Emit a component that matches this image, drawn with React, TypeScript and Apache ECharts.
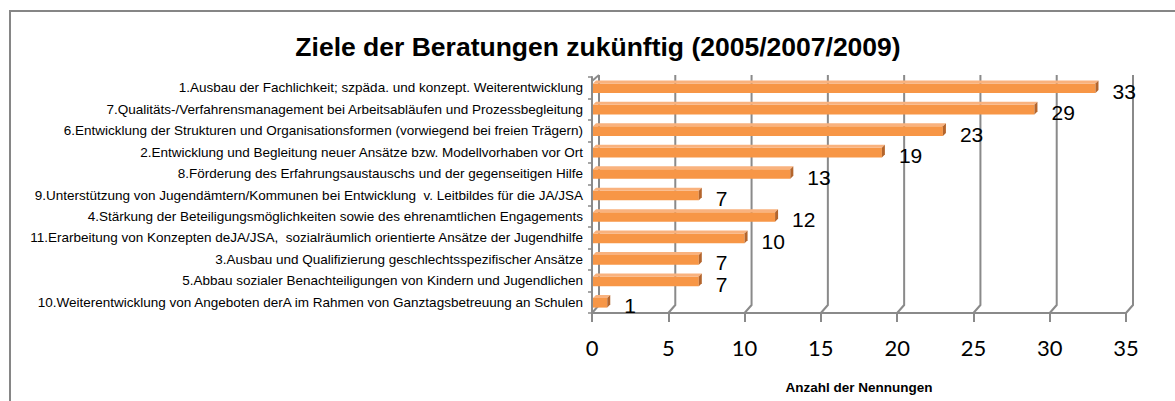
import React, { useEffect, useRef } from "react";
import * as echarts from "echarts";

const titleText = "Ziele der Beratungen zukünftig (2005/2007/2009)";
const axisTitle = "Anzahl der Nennungen";

const categories = [
  "1.Ausbau der Fachlichkeit; szpäda. und konzept. Weiterentwicklung",
  "7.Qualitäts-/Verfahrensmanagement bei Arbeitsabläufen und Prozessbegleitung",
  "6.Entwicklung der Strukturen und Organisationsformen (vorwiegend bei freien Trägern)",
  "2.Entwicklung und Begleitung neuer Ansätze bzw. Modellvorhaben vor Ort",
  "8.Förderung des Erfahrungsaustauschs und der gegenseitigen Hilfe",
  "9.Unterstützung von Jugendämtern/Kommunen bei Entwicklung  v. Leitbildes für die JA/JSA",
  "4.Stärkung der Beteiligungsmöglichkeiten sowie des ehrenamtlichen Engagements",
  "11.Erarbeitung von Konzepten deJA/JSA,  sozialräumlich orientierte Ansätze der Jugendhilfe",
  "3.Ausbau und Qualifizierung geschlechtsspezifischer Ansätze",
  "5.Abbau sozialer Benachteiligungen von Kindern und Jugendlichen",
  "10.Weiterentwicklung von Angeboten derA im Rahmen von Ganztagsbetreuung an Schulen",
];

const values = [33, 29, 23, 19, 13, 7, 12, 10, 7, 7, 1];

const tickValues = [0, 5, 10, 15, 20, 25, 30, 35];

const GRID_COLOR = "#8a8a8a";
const WALL_DX = 7;
const WALL_DY = 8;
const BAR_DX = 3;
const BAR_DY = 3;

export default function App() {
  const ref = useRef<HTMLDivElement>(null);

  useEffect(() => {
    document.body.style.margin = "0";
    document.body.style.overflow = "hidden";
    if (!ref.current) return;
    const chart = echarts.init(ref.current, null, { renderer: "svg" });

    const option: any = {
      animation: false,
      backgroundColor: "#ffffff",
      title: {
        text: titleText,
        left: 598,
        top: 33,
        textAlign: "center",
        padding: 0,
        textStyle: {
          fontFamily: "Liberation Sans",
          fontSize: 26.5,
          fontWeight: "bold",
          color: "#000",
        },
      },
      graphic: [
        {
          type: "rect",
          shape: { x: 10, y: 11, width: 1400, height: 600 },
          style: { fill: "none", stroke: "#868686", lineWidth: 2 },
          silent: true,
        },
      ],
      grid: {
        left: 592,
        top: 77,
        width: 534,
        height: 236,
        outerBoundsMode: "none",
        containLabel: false,
      },
      xAxis: {
        type: "value",
        min: 0,
        max: 35,
        interval: 5,
        axisLine: { show: true, lineStyle: { color: GRID_COLOR, width: 2 } },
        axisTick: { show: true, length: 9, lineStyle: { color: GRID_COLOR, width: 2 } },
        splitLine: { show: false },
        axisLabel: {
          fontFamily: "Lato",
          fontSize: 22,
          color: "#000",
          margin: 23,
        },
        name: axisTitle,
        nameLocation: "middle",
        nameGap: 67,
        nameTextStyle: {
          fontFamily: "Liberation Sans",
          fontSize: 13.5,
          fontWeight: "bold",
          color: "#000",
        },
      },
      yAxis: {
        type: "category",
        inverse: true,
        data: categories,
        axisLine: { show: true, lineStyle: { color: GRID_COLOR, width: 2 } },
        axisTick: { show: true, length: 4, lineStyle: { color: GRID_COLOR, width: 1.5 } },
        splitLine: { show: false },
        axisLabel: {
          interval: 0,
          fontFamily: "Liberation Sans",
          fontSize: 13.5,
          color: "#000",
          margin: 9,
        },
      },
      series: [
        {
          type: "custom",
          name: "walls",
          z: 1,
          clip: false,
          silent: true,
          data: tickValues.map((v) => [v, 0]),
          encode: { x: 0, y: 1 },
          renderItem: (params: any, api: any) => {
            const cs = params.coordSys;
            const v = api.value(0);
            const x = api.coord([v, 0])[0];
            const yB = cs.y + cs.height;
            const yT = cs.y;
            const style = { stroke: GRID_COLOR, lineWidth: 2, fill: null };
            const children: any[] = [
              {
                type: "polyline",
                shape: {
                  points: [
                    [x, yB],
                    [x + WALL_DX, yB - WALL_DY],
                    [x + WALL_DX, yT - 2],
                  ],
                },
                style,
              },
            ];
            if (v === 0) {
              children.push({
                type: "polyline",
                shape: {
                  points: [
                    [x, yT + 4],
                    [x + WALL_DX, yT - 2],
                  ],
                },
                style,
              });
            }
            return { type: "group", children };
          },
        },
        {
          type: "custom",
          name: "Nennungen",
          z: 2,
          clip: false,
          data: values.map((v, i) => [v, i]),
          encode: { x: 0, y: 1 },
          renderItem: (params: any, api: any) => {
            const v = api.value(0);
            const i = api.value(1);
            const p0 = api.coord([0, i]);
            const p1 = api.coord([v, i]);
            const band = api.size([0, 1])[1];
            const h = band * 0.45;
            const yc = p0[1] + 0.5;
            const x0 = p0[0] + 1;
            const x1 = p1[0];
            const top = yc - h / 2;
            const bot = yc + h / 2;
            return {
              type: "group",
              children: [
                {
                  type: "rect",
                  shape: { x: x0, y: top, width: x1 - x0, height: h },
                  style: { fill: "#F79646" },
                },
                {
                  type: "polygon",
                  shape: {
                    points: [
                      [x0, top],
                      [x1, top],
                      [x1 + BAR_DX, top - BAR_DY],
                      [x0 + BAR_DX, top - BAR_DY],
                    ],
                  },
                  style: { fill: "#F9B27E" },
                },
                {
                  type: "polygon",
                  shape: {
                    points: [
                      [x1, top],
                      [x1 + BAR_DX, top - BAR_DY],
                      [x1 + BAR_DX, bot - BAR_DY],
                      [x1, bot],
                    ],
                  },
                  style: { fill: "#B4652C" },
                },
                {
                  type: "text",
                  x: x1 + 17,
                  y: yc + 3,
                  style: {
                    text: String(v),
                    fontFamily: "Liberation Sans",
                    fontSize: 21,
                    fill: "#000",
                    align: "left",
                    verticalAlign: "middle",
                  },
                },
              ],
            };
          },
        },
      ],
    };

    chart.setOption(option);
    return () => {
      chart.dispose();
    };
  }, []);

  return <div ref={ref} style={{ width: 1175, height: 401 }} />;
}
